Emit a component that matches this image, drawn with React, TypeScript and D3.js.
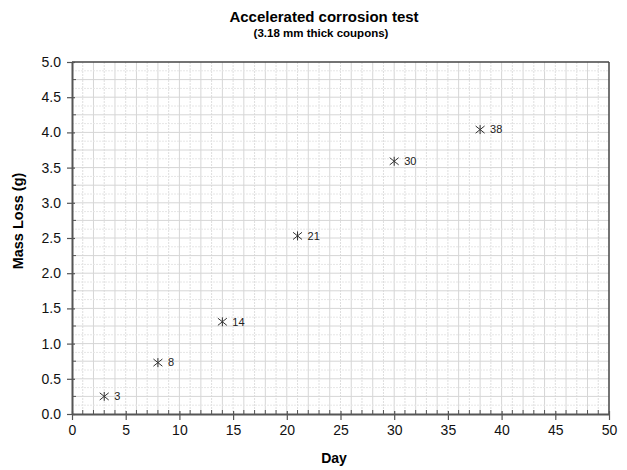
import { useEffect, useRef } from "react";
import * as d3 from "d3";

const days = [3, 8, 14, 21, 30, 38];
const massLoss = [0.25, 0.73, 1.31, 2.53, 3.59, 4.04];
const xTicks = [0, 5, 10, 15, 20, 25, 30, 35, 40, 45, 50];
const yTicks = [0, 0.5, 1, 1.5, 2, 2.5, 3, 3.5, 4, 4.5, 5];

const App = () => {
  const svgRef = useRef<SVGSVGElement>(null);

  useEffect(() => {
    const margin = { top: 62, right: 18, bottom: 56, left: 72 };
    const width = 627 - margin.left - margin.right;
    const height = 470 - margin.top - margin.bottom;

    const root = d3.select(svgRef.current);
    root.selectAll("*").remove();

    const svg = root
      .append("g")
      .attr("transform", `translate(${margin.left},${margin.top})`);

    const xScale = d3.scaleLinear().domain([0, 50]).range([0, width]);
    const yScale = d3.scaleLinear().domain([0, 5]).range([height, 0]);

    // grid: vertical every day, horizontal every 0.125
    const vLines = d3.range(1, 50, 1);
    svg.append("g")
      .selectAll("line")
      .data(vLines)
      .join("line")
      .attr("x1", d => xScale(d))
      .attr("x2", d => xScale(d))
      .attr("y1", 0)
      .attr("y2", height)
      .style("stroke", d => (d % 2 === 0 ? "#d6d6d6" : "#dedede"))
      .style("stroke-width", 1)
      .style("stroke-dasharray", d => (d % 2 === 0 ? null : "2,1"));

    const hLines = d3.range(1, 40, 1).map(i => i * 0.125);
    svg.append("g")
      .selectAll("line")
      .data(hLines)
      .join("line")
      .attr("x1", 0)
      .attr("x2", width)
      .attr("y1", d => yScale(d))
      .attr("y2", d => yScale(d))
      .style("stroke", (d, i) => (i % 2 === 1 ? "#d6d6d6" : "#e6e6e6"))
      .style("stroke-width", 1)
      .style("stroke-dasharray", (d, i) => (i % 2 === 1 ? null : "2,1"));

    // frame
    svg.append("line")
      .attr("x1", 0).attr("x2", width).attr("y1", 0).attr("y2", 0)
      .style("stroke", "#444").style("stroke-width", 1.5);
    svg.append("line")
      .attr("x1", width).attr("x2", width).attr("y1", 0).attr("y2", height)
      .style("stroke", "#444").style("stroke-width", 1.5);

    // x axis
    const xAxisGroup = svg.append("g").attr("transform", `translate(0,${height})`);
    xAxisGroup.call(
      d3.axisBottom(xScale).tickValues(xTicks).tickSize(6).tickSizeOuter(0).tickPadding(5)
    );
    xAxisGroup.selectAll(".tick line").attr("y1", -3);
    xAxisGroup
      .selectAll(".minor")
      .data(d3.range(1, 50).filter(d => d % 5 !== 0))
      .join("line")
      .attr("class", "minor")
      .attr("x1", d => xScale(d))
      .attr("x2", d => xScale(d))
      .attr("y1", 0)
      .attr("y2", -4)
      .style("stroke", "#555");

    // y axis
    const yAxisGroup = svg.append("g");
    yAxisGroup.call(
      d3.axisLeft(yScale).tickValues(yTicks).tickFormat(d3.format(".1f")).tickSize(5).tickSizeOuter(0).tickPadding(6)
    );
    yAxisGroup.selectAll(".tick line").attr("x1", 3);
    yAxisGroup
      .selectAll(".minor")
      .data(d3.range(0.25, 5, 0.5))
      .join("line")
      .attr("class", "minor")
      .attr("x1", 0)
      .attr("x2", 4)
      .attr("y1", d => yScale(d))
      .attr("y2", d => yScale(d))
      .style("stroke", "#555");

    [xAxisGroup, yAxisGroup].forEach(g => {
      g.select(".domain").style("stroke", "#555").style("stroke-width", 2);
      g.selectAll(".tick line").style("stroke", "#555").style("stroke-width", 1.2);
      g.selectAll(".tick text")
        .style("font-family", "Arial, 'Liberation Sans', sans-serif")
        .style("font-size", "14px")
        .style("fill", "#111");
    });

    // points as asterisks
    const points = days.map((d, i) => ({ day: d, loss: massLoss[i] }));
    const r = 4.5;
    const marks = svg.append("g")
      .selectAll("g")
      .data(points)
      .join("g")
      .attr("transform", d => `translate(${xScale(d.day)},${yScale(d.loss)})`);
    marks.append("path")
      .attr("d", `M0,${-r}L0,${r}M${-r},${-r * 0.8}L${r},${r * 0.8}M${-r},${r * 0.8}L${r},${-r * 0.8}`)
      .style("stroke", "#333")
      .style("stroke-width", 1);
    marks.append("text")
      .attr("x", 10)
      .attr("dy", "0.35em")
      .style("font-family", "Arial, 'Liberation Sans', sans-serif")
      .style("font-size", "11px")
      .style("fill", "#222")
      .text(d => d.day);

    // titles
    root.append("text")
      .attr("x", 324)
      .attr("y", 22)
      .attr("text-anchor", "middle")
      .style("font-family", "Arial, 'Liberation Sans', sans-serif")
      .style("font-weight", "bold")
      .style("font-size", "15px")
      .text("Accelerated corrosion test");
    root.append("text")
      .attr("x", 321)
      .attr("y", 37)
      .attr("text-anchor", "middle")
      .style("font-family", "Arial, 'Liberation Sans', sans-serif")
      .style("font-weight", "bold")
      .style("font-size", "11.5px")
      .text("(3.18 mm thick coupons)");

    root.append("text")
      .attr("x", 334)
      .attr("y", 463)
      .attr("text-anchor", "middle")
      .style("font-family", "Arial, 'Liberation Sans', sans-serif")
      .style("font-weight", "bold")
      .style("font-size", "14px")
      .text("Day");
    root.append("text")
      .attr("transform", `translate(23,221) rotate(-90)`)
      .attr("text-anchor", "middle")
      .style("font-family", "Arial, 'Liberation Sans', sans-serif")
      .style("font-weight", "bold")
      .style("font-size", "14.5px")
      .text("Mass Loss (g)");
  }, []);

  return (
    <svg
      ref={svgRef}
      width={627}
      height={470}
      style={{ position: "absolute", left: 0, top: 0, background: "#fff" }}
    />
  );
};

export default App;
